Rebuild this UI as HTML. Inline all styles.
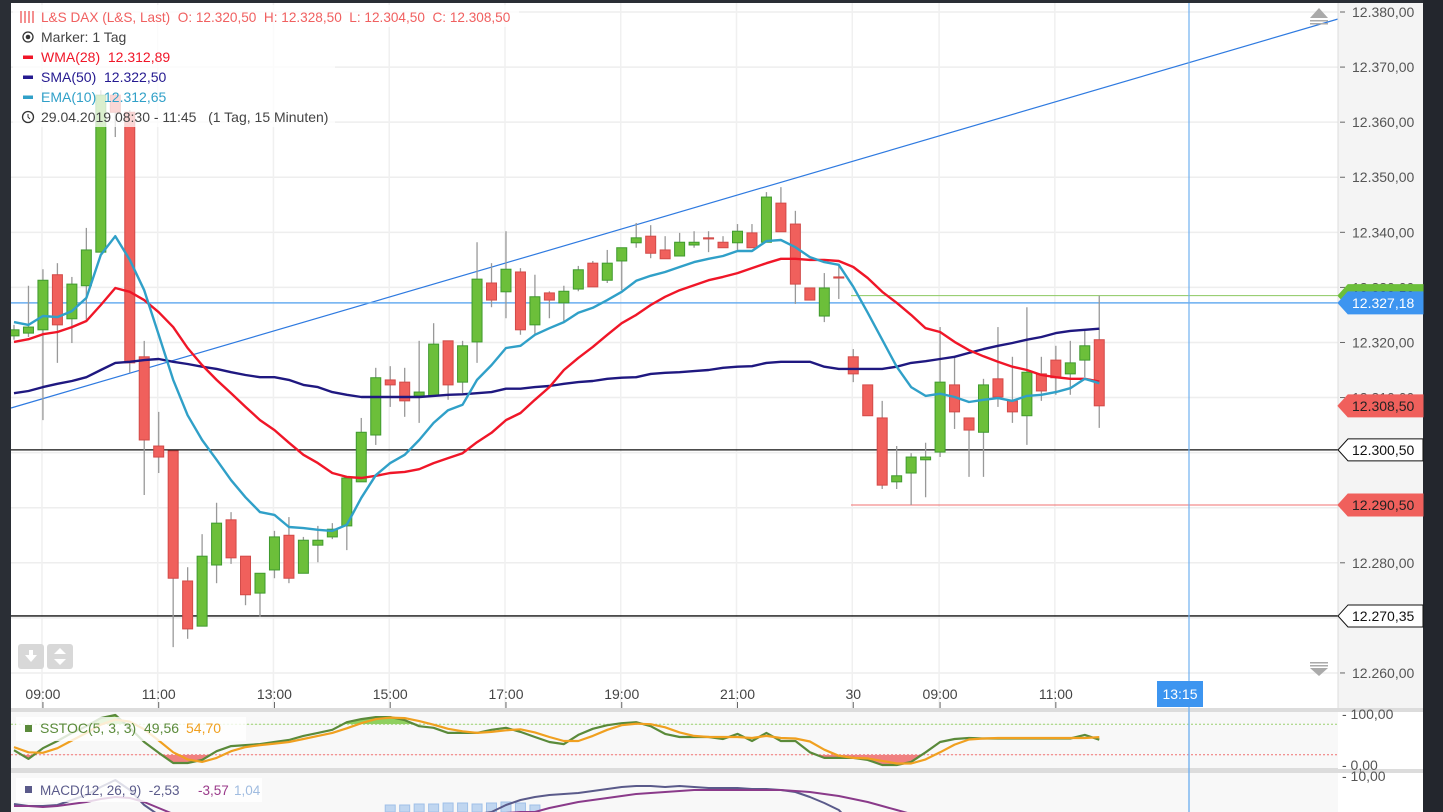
<!DOCTYPE html>
<html><head><meta charset="utf-8">
<style>
html,body{margin:0;padding:0;background:#fff;overflow:hidden}
svg{display:block;font-family:"Liberation Sans",sans-serif}
text{white-space:pre}
</style></head>
<body>
<svg id="chart" width="1443" height="812" viewBox="0 0 1443 812" xmlns="http://www.w3.org/2000/svg">
<rect x="0" y="0" width="1443" height="812" fill="#fff"/>
<g id="grid"></g>
<g id="main"></g>
<g id="stoch"></g>
<g id="macd"></g>
<g id="axis"></g>
</svg>
<script>
// ---- data ----
const openV=[12321.2,12321.7,12322.3,12332.3,12324.3,12330.3,12336.4,12364.9,12361.8,12317.4,12301.2,12300.3,12276.7,12268.5,12279.6,12287.8,12281.2,12274.5,12278.7,12285.0,12278.1,12283.2,12284.7,12286.7,12294.7,12303.2,12313.2,12312.8,12310.3,12310.3,12320.3,12312.8,12320.1,12330.8,12329.2,12332.8,12323.2,12329.0,12327.2,12329.7,12334.4,12331.3,12334.8,12338.1,12339.3,12336.8,12335.7,12337.7,12339.0,12338.2,12338.1,12339.9,12338.2,12345.3,12341.5,12329.9,12324.8,12331.9,12317.4,12312.3,12306.3,12294.7,12296.3,12298.7,12300.1,12312.3,12306.3,12303.7,12313.4,12309.4,12306.7,12314.3,12316.8,12314.3,12316.8,12320.5];
const closeV=[12322.3,12322.8,12331.3,12323.2,12330.6,12336.8,12364.9,12361.8,12316.3,12302.3,12299.2,12277.2,12268.0,12281.2,12287.2,12280.9,12274.2,12278.1,12284.7,12277.2,12284.1,12284.1,12286.1,12295.4,12303.7,12313.6,12312.3,12309.4,12311.0,12319.7,12312.3,12319.4,12331.5,12327.7,12333.3,12322.3,12328.3,12327.7,12329.3,12333.2,12330.1,12334.4,12337.2,12339.0,12336.2,12335.2,12338.2,12338.2,12338.8,12337.2,12340.2,12337.2,12346.4,12340.1,12330.6,12327.7,12329.9,12331.7,12314.3,12306.7,12294.1,12295.8,12299.2,12299.2,12312.8,12307.4,12304.1,12312.3,12310.1,12307.4,12314.6,12311.2,12313.6,12316.3,12319.4,12308.5];
const highV=[12323.2,12330.3,12333.3,12334.4,12331.9,12340.8,12365.8,12365.4,12362.2,12320.3,12307.4,12300.3,12279.2,12285.2,12290.9,12289.2,12281.2,12278.1,12285.8,12288.3,12284.7,12286.7,12287.2,12295.4,12306.3,12315.4,12315.7,12315.4,12320.3,12323.5,12320.3,12320.3,12338.2,12334.4,12340.2,12333.5,12332.3,12329.3,12330.3,12333.9,12334.8,12336.8,12337.2,12341.7,12341.3,12339.3,12339.9,12340.2,12340.2,12339.3,12341.5,12341.5,12347.3,12348.2,12343.9,12329.9,12332.6,12334.1,12318.8,12312.3,12309.4,12301.2,12299.9,12301.8,12322.8,12317.4,12306.3,12313.4,12322.8,12317.4,12326.4,12317.4,12319.4,12320.3,12322.1,12328.5];
const lowV=[12320.5,12321.0,12305.9,12316.3,12319.9,12324.1,12336.4,12357.3,12314.5,12292.3,12296.3,12264.7,12266.2,12268.5,12276.3,12279.8,12272.3,12270.2,12277.2,12276.3,12278.1,12280.1,12284.3,12282.3,12294.7,12301.4,12308.3,12306.5,12305.4,12310.3,12309.6,12310.8,12316.3,12326.4,12324.4,12321.4,12321.4,12324.4,12323.7,12329.3,12330.1,12330.8,12329.5,12337.2,12335.3,12335.2,12335.7,12337.2,12336.4,12337.2,12336.8,12337.2,12338.2,12340.1,12327.0,12327.7,12323.7,12327.9,12312.8,12306.7,12293.4,12293.4,12290.5,12291.9,12299.2,12304.3,12295.6,12295.6,12308.3,12305.4,12301.4,12309.4,12310.5,12310.5,12313.7,12304.5];
const emaV=[12323.7,12323.2,12324.8,12324.6,12325.7,12328.1,12335.9,12339.3,12335.0,12329.5,12321.4,12313.2,12306.8,12302.3,12298.7,12295.0,12291.9,12289.2,12288.7,12286.5,12286.3,12286.0,12285.8,12286.9,12291.8,12295.9,12298.1,12299.6,12302.3,12305.4,12307.7,12308.7,12313.2,12315.9,12319.0,12319.4,12321.4,12322.6,12323.7,12325.4,12326.3,12327.7,12329.2,12331.2,12332.1,12332.8,12333.7,12334.6,12335.2,12335.7,12336.6,12336.6,12338.4,12338.6,12337.3,12335.5,12334.6,12334.1,12330.1,12325.4,12320.5,12315.6,12311.9,12310.3,12310.7,12310.1,12309.2,12309.6,12309.9,12309.4,12310.3,12310.5,12311.0,12311.7,12313.4,12312.6];
const wmaV=[12320.1,12320.6,12321.5,12321.9,12322.8,12323.9,12326.8,12329.9,12329.2,12327.7,12325.5,12322.8,12319.0,12315.9,12313.2,12310.8,12308.3,12305.9,12304.1,12301.8,12299.6,12298.1,12296.3,12295.6,12295.4,12295.8,12296.3,12296.5,12297.0,12298.1,12299.0,12299.9,12301.9,12303.6,12305.9,12307.2,12309.6,12311.9,12315.0,12317.2,12319.2,12321.4,12323.5,12325.0,12326.8,12328.3,12329.5,12330.4,12331.3,12331.9,12332.6,12333.5,12334.4,12335.2,12335.2,12335.0,12335.0,12334.8,12333.7,12331.7,12329.2,12327.2,12325.0,12322.6,12321.9,12320.1,12318.6,12317.5,12316.5,12315.6,12315.0,12314.1,12313.7,12313.4,12313.4,12312.9];
const smaV=[12310.8,12311.2,12311.9,12312.5,12313.0,12313.7,12315.0,12316.3,12316.5,12316.8,12317.0,12316.5,12316.1,12315.6,12315.2,12314.6,12314.1,12313.7,12313.7,12313.2,12312.3,12311.9,12311.0,12310.5,12310.1,12310.1,12310.1,12310.1,12310.1,12310.3,12310.5,12310.6,12310.8,12311.0,12311.6,12311.6,12311.9,12312.1,12312.5,12312.8,12313.0,12313.4,12313.6,12313.7,12314.3,12314.5,12314.6,12314.8,12315.0,12315.4,12315.6,12315.7,12316.3,12316.5,12316.5,12316.5,12315.6,12315.2,12315.2,12315.2,12315.2,12315.6,12316.3,12316.6,12317.0,12317.4,12318.1,12318.8,12319.4,12319.9,12320.5,12321.0,12321.7,12322.1,12322.3,12322.5];
const stochK=[29,12,33,47,63,76,92,98,73,45,24,4,4,10,27,37,39,41,45,49,57,63,69,84,90,94,94,88,76,73,63,63,63,69,73,65,55,45,41,59,71,78,82,84,76,61,55,55,55,51,61,47,63,47,47,25,14,14,14,10,0,0,6,25,45,51,53,52,52,52,52,52,52,52,59,49.56];
const stochD=[35,25,24,33,48,63,79,89,85,70,48,25,11,6,14,27,35,39,42,45,51,57,63,72,82,90,93,92,86,79,71,66,63,65,68,70,64,55,47,47,57,69,78,81,80,74,64,57,55,55,55,53,57,53,52,46,30,18,14,13,8,3,3,11,25,40,50,52,53,53,53,53,53,53,53,54.7];
const macdV=[-4,-5,-5,-4.5,-2,0.5,4.5,8,3,-4.5,-9.5,-17,-20,-22,-23,-24,-24,-24,-23,-22,-21,-20,-19,-18,-17,-16,-15,-14,-13,-12,-11,-10,-9,-8,-4.5,-2,-0.5,0.5,1,1.5,2.5,3.5,4.5,5,5,4.5,5,4.5,4,4,4,3.5,3.5,3,2,-0.5,-3.5,-7,-14.5,-18,-20,-21,-22,-22,-21,-20,-19,-18,-17,-16,-15,-14,-13,-12,-11,-10];
const signalV=[-5,-5,-5.5,-5,-4,-3,-1.5,-0.5,-1,-3,-6,-9,-12,-14,-16,-18,-19,-20,-20,-20,-20,-20,-19,-18,-17,-16,-15,-14,-13,-12,-11,-10,-9.5,-9,-8.5,-8,-8,-6,-4.5,-3,-2,-1,0,1,1.5,2,2.5,3,3,3,3,3,3,3,2.5,2,1,0,-1.5,-3,-5,-7,-9,-11,-13,-14,-15,-15,-15,-15,-15,-15,-15,-14,-14,-13];
const histV=[null,null,null,null,null,null,null,null,null,null,null,null,null,null,null,null,null,null,null,null,null,null,null,null,null,null,-4.5,-4.5,-4,-4,-3.5,-3.5,-4,-3.5,-3,-3.5,-4.5,null];
const priceTicks=[12380,12370,12360,12350,12340,12330,12320,12310,12300,12290,12280,12270,12260];
const timeLabels=["09:00","11:00","13:00","15:00","17:00","19:00","21:00","30","09:00","11:00"];
const timeIdx=[2,10,18,26,34,42,50,58,64,72];
// ---- scales ----
const NS="http://www.w3.org/2000/svg";
const X=i=>14+i*14.47;
const Y=p=>12+(12380-p)*5.508;
const SY=v=>765-v*0.51;
const MY=v=>796-v*2;
const fmt=v=>{let s=v.toFixed(2).split('.');return s[0].replace(/\B(?=(\d{3})+(?!\d))/g,'.')+','+s[1];};
function mk(tag,attrs,parent,text){const e=document.createElementNS(NS,tag);for(const k in attrs)e.setAttribute(k,attrs[k]);if(text!==undefined)e.textContent=text;parent.appendChild(e);return e;}
const grid=document.getElementById('grid'),main=document.getElementById('main'),st=document.getElementById('stoch'),mc=document.getElementById('macd'),ax=document.getElementById('axis');
// grid
priceTicks.forEach(p=>{const l=mk('line',{x1:11,x2:1338,y1:Y(p),y2:Y(p),stroke:'#eeeeee','stroke-width':1.5},grid);

});
timeIdx.forEach(i=>{const l=mk('line',{x1:X(i)-1,x2:X(i)-1,y1:0,y2:708,stroke:'#f0f0f0','stroke-width':1.5},grid);

});
// reference lines
let e;
e=mk('line',{x1:11,y1:408,x2:1338,y2:19,stroke:'#2e7ae0','stroke-width':1.2},main);


e=mk('line',{x1:11,x2:1338,y1:Y(12327.18),y2:Y(12327.18),stroke:'#6aaef0','stroke-width':1.5},main);


e=mk('line',{x1:851,x2:1338,y1:Y(12328.5),y2:Y(12328.5),stroke:'#8cc860','stroke-width':1},main);


e=mk('line',{x1:851,x2:1338,y1:Y(12290.5),y2:Y(12290.5),stroke:'#f07070','stroke-width':1},main);


[12300.5,12270.35].forEach(p=>{const l=mk('line',{x1:11,x2:1338,y1:Y(p),y2:Y(p),stroke:'#111','stroke-width':1.3},main);

});
// candles
for(let i=0;i<openV.length;i++){
 const up=closeV[i]>=openV[i],x=X(i);
 const g=mk('g',{},main);
 
 
 mk('line',{x1:x,x2:x,y1:Y(highV[i]),y2:Y(lowV[i]),stroke:'#999','stroke-width':1.3},g);
 const t=Y(Math.max(openV[i],closeV[i])),b=Y(Math.min(openV[i],closeV[i]));
 mk('rect',{x:x-5,y:t,width:10,height:Math.max(1,b-t),fill:up?'#6cbf3a':'#f0605c',stroke:up?'#3f9a2e':'#d24a48','stroke-width':1},g);
}
// MA lines
function line(arr,color,w,parent,name,scale){let d='';arr.forEach((v,i)=>{if(v===null)return;d+=(d?'L':'M')+X(i).toFixed(1)+','+scale(v).toFixed(1);});
const p=mk('path',{d:d,fill:'none',stroke:color,'stroke-width':w,'stroke-linejoin':'round'},parent);

return p;}
line(smaV,'#1f1880',2.4,main,'sma50-line',Y);
line(wmaV,'#f01628',2.4,main,'wma28-line',Y);
line(emaV,'#30a0c8',2.4,main,'ema10-line',Y);
// vertical marker
e=mk('line',{x1:1189,x2:1189,y1:0,y2:812,stroke:'#70b0f0','stroke-width':1.2},ax);


// frame
e=mk('rect',{x:0,y:0,width:11,height:812,fill:'#2a2e35'},ax);


e=mk('rect',{x:0,y:0,width:1443,height:3,fill:'#2a2e35'},ax);


e=mk('rect',{x:1338,y:3,width:85,height:705,fill:'#f4f4f4'},ax);


mk('line',{x1:1338,x2:1338,y1:3,y2:708,stroke:'#ddd'},ax);
e=mk('rect',{x:1423,y:0,width:20,height:812,fill:'#23262d'},ax);


priceTicks.forEach(p=>{mk('line',{x1:1340,x2:1345,y1:Y(p),y2:Y(p),stroke:'#666'},ax);
const t=mk('text',{x:1352,y:Y(p)+5,'font-size':14,fill:'#555'},ax,fmt(p));

});
// price boxes
function box(p,bg,fg,name,border,label){const y=Y(p);const g=mk('g',{},ax);


mk('polygon',{points:`1338,${y} 1348,${y-11} 1423,${y-11} 1423,${y+11} 1348,${y+11}`,fill:bg,stroke:border||bg,'stroke-width':1},g);
mk('text',{x:1352,y:y+5,'font-size':14,fill:fg},g,label||fmt(p));}
box(12328.5,'#6cbf3a','#222','high-price-tag');
box(12327.18,'#3d95f0','#fff','current-price-tag');
box(12308.5,'#f0605c','#222','close-price-tag');
box(12300.5,'#fff','#111','support-tag-1','#111');
box(12290.5,'#f0605c','#222','low-price-tag');
box(12270.35,'#fff','#111','support-tag-2','#111');
// scroll icons
[[14,1],[668,-1]].forEach(([y,d])=>{const g=mk('g',{fill:'#aaa'},ax);


if(d>0){mk('polygon',{points:`1310,${y+4} 1319,${y-6} 1328,${y+4}`},g);mk('rect',{x:1310,y:y+6,width:18,height:1.5},g);mk('rect',{x:1310,y:y+9,width:18,height:1.5},g);}
else{mk('rect',{x:1310,y:y-6,width:18,height:1.5},g);mk('rect',{x:1310,y:y-3,width:18,height:1.5},g);mk('polygon',{points:`1310,${y} 1319,${y+8} 1328,${y}`},g);}});
// buttons
[[18,'download-button'],[47,'zoom-button']].forEach(([x,n])=>{const g=mk('g',{},ax);


mk('rect',{x:x,y:644,width:26,height:25,rx:3,fill:'#d8d8d8'},g);
if(n==='download-button'){mk('polygon',{points:`${x+7},655 ${x+19},655 ${x+13},662`,fill:'#fff'},g);mk('rect',{x:x+11,y:650,width:4,height:6,fill:'#fff'},g);}
else{mk('polygon',{points:`${x+7},654 ${x+13},648 ${x+19},654`,fill:'#fff'},g);mk('polygon',{points:`${x+7},659 ${x+13},665 ${x+19},659`,fill:'#fff'},g);}});
// legend
const lg=mk('g',{},ax);


mk('rect',{x:13,y:5,width:322,height:122,fill:'rgba(255,255,255,0.75)'},lg);
mk('rect',{x:333,y:5,width:186,height:22,fill:'rgba(255,255,255,0.75)'},lg);
const items=[
 [17,'L&S DAX (L&S, Last)  O: 12.320,50  H: 12.328,50  L: 12.304,50  C: 12.308,50','#f06060',null,'legend-title',13.6],
 [37,'Marker: 1 Tag','#444','dot','legend-marker',14],
 [57,'WMA(28)  12.312,89','#f01628','#f01628','legend-wma',14],
 [77,'SMA(50)  12.322,50','#251a90','#251a90','legend-sma',14],
 [97,'EMA(10)  12.312,65','#30a0c8','#30a0c8','legend-ema',14],
 [117,'29.04.2019 08:30 - 11:45   (1 Tag, 15 Minuten)','#444','clock','legend-range',14]];
items.forEach(([y,t,c,ic,n,fs])=>{const tx=mk('text',{x:41,y:y+5,'font-size':fs,fill:c},lg,t);


if(ic==='dot'){mk('circle',{cx:28,cy:y,r:5,fill:'none',stroke:'#333','stroke-width':1.3},lg);mk('circle',{cx:28,cy:y,r:2.3,fill:'#333'},lg);}
else if(ic==='clock'){mk('circle',{cx:28,cy:y,r:5.5,fill:'none',stroke:'#333','stroke-width':1.3},lg);mk('path',{d:`M28,${y-3}V${y}L30,${y+2}`,stroke:'#333',fill:'none'},lg);}
else if(ic){mk('rect',{x:23,y:y-1.5,width:10,height:3.5,fill:ic},lg);}
else{mk('path',{d:`M21,${y-6}V${y+6}M25,${y-6}V${y+6}M29,${y-6}V${y+6}M33,${y-6}V${y+6}`,stroke:'#f06060','stroke-width':1.4},lg);}});
// time axis
timeLabels.forEach((t,k)=>{const x=X(timeIdx[k]);mk('line',{x1:x,x2:x,y1:702,y2:708,stroke:'#666'},ax);
const tx=mk('text',{x:x,y:699,'font-size':14,fill:'#444','text-anchor':'middle'},ax,t);

});
e=mk('rect',{x:1157,y:681,width:46,height:26,fill:'#3d95f0'},ax);


mk('text',{x:1180,y:699,'font-size':14,fill:'#fff','text-anchor':'middle'},ax,'13:15');
// panels bg
mk('rect',{x:11,y:708,width:1412,height:4,fill:'#dcdcdc'},st);
mk('rect',{x:11,y:712,width:1327,height:57,fill:'#f8f8f8'},st);
mk('rect',{x:11,y:768,width:1412,height:5,fill:'#dcdcdc'},st);
mk('rect',{x:11,y:773,width:1327,height:39,fill:'#f8f8f8'},mc);
mk('rect',{x:1338,y:712,width:85,height:57,fill:'#fff'},st);
mk('rect',{x:1338,y:773,width:85,height:39,fill:'#fff'},mc);
mk('line',{x1:11,x2:1338,y1:SY(80),y2:SY(80),stroke:'#9bd070','stroke-dasharray':'2,2'},st);
mk('line',{x1:11,x2:1338,y1:SY(20),y2:SY(20),stroke:'#f07070','stroke-dasharray':'2,2'},st);
// stoch fills
const defs=mk('defs',{},st);
const c1=mk('clipPath',{id:'above'},defs);mk('rect',{x:0,y:0,width:1443,height:SY(80)},c1);
const c2=mk('clipPath',{id:'below'},defs);mk('rect',{x:0,y:SY(20),width:1443,height:100},c2);
let dK='M'+X(0)+','+SY(80);stochK.forEach((v,i)=>dK+='L'+X(i).toFixed(1)+','+SY(v).toFixed(1));dK+='L'+X(stochK.length-1)+','+SY(80)+'Z';
mk('path',{d:dK,fill:'#8fd060','clip-path':'url(#above)'},st);
let dK2='M'+X(0)+','+SY(20);stochK.forEach((v,i)=>dK2+='L'+X(i).toFixed(1)+','+SY(v).toFixed(1));dK2+='L'+X(stochK.length-1)+','+SY(20)+'Z';
mk('path',{d:dK2,fill:'#f08080','clip-path':'url(#below)'},st);
line(stochK,'#5a8a3a',2.2,st,'sstoc-k-line',SY);
line(stochD,'#f0a020',2.2,st,'sstoc-d-line',SY);
mk('line',{x1:1189,x2:1189,y1:712,y2:812,stroke:'#70b0f0','stroke-width':1.2},st);
[[100,714],[0,765]].forEach(([v,y])=>{mk('text',{x:1342,y:y+5,'font-size':14,fill:'#555'},st,'- '+fmt(v));});
const sl=mk('g',{},st);


mk('rect',{x:16,y:717,width:230,height:24,fill:'rgba(255,255,255,0.8)'},sl);
mk('rect',{x:25,y:725,width:7,height:7,fill:'#5a8a3a'},sl);
mk('text',{x:40,y:733,'font-size':14,fill:'#5a8a3a'},sl,'SSTOC(5, 3, 3)  49,56');
mk('text',{x:186,y:733,'font-size':14,fill:'#f0a020'},sl,'54,70');
// macd
const mg=mk('g',{'clip-path':'url(#macdclip)'},mc);
const c3=mk('clipPath',{id:'macdclip'},defs);mk('rect',{x:11,y:773,width:1327,height:39},c3);
histV.forEach((v,i)=>{if(v===null)return;const r=mk('rect',{x:X(i)-5,y:MY(v),width:10,height:812-MY(v),fill:'#c0d6f0',stroke:'#a0c0e8'},mg);

});
line(macdV,'#5a5a8a',2,mg,'macd-line',MY);
line(signalV,'#8a3a8a',2,mg,'macd-signal-line',MY);
mk('line',{x1:1189,x2:1189,y1:773,y2:812,stroke:'#70b0f0','stroke-width':1.2},mc);
mk('text',{x:1342,y:781,'font-size':14,fill:'#555'},mc,'- 10,00');
const ml=mk('g',{},mc);


mk('rect',{x:16,y:778,width:246,height:24,fill:'rgba(255,255,255,0.8)'},ml);
mk('rect',{x:25,y:786,width:7,height:7,fill:'#5a5a8a'},ml);
mk('text',{x:40,y:795,'font-size':13.5,fill:'#5a5a8a'},ml,'MACD(12, 26, 9)  -2,53');
mk('text',{x:198,y:795,'font-size':13.5,fill:'#9a3a8a'},ml,'-3,57');
mk('text',{x:234,y:795,'font-size':13.5,fill:'#a0bce0'},ml,'1,04');
mk('rect',{x:1423,y:0,width:20,height:812,fill:'#23262d'},mc);
mk('rect',{x:0,y:0,width:11,height:812,fill:'#2a2e35'},mc);
</script>
</body></html>
